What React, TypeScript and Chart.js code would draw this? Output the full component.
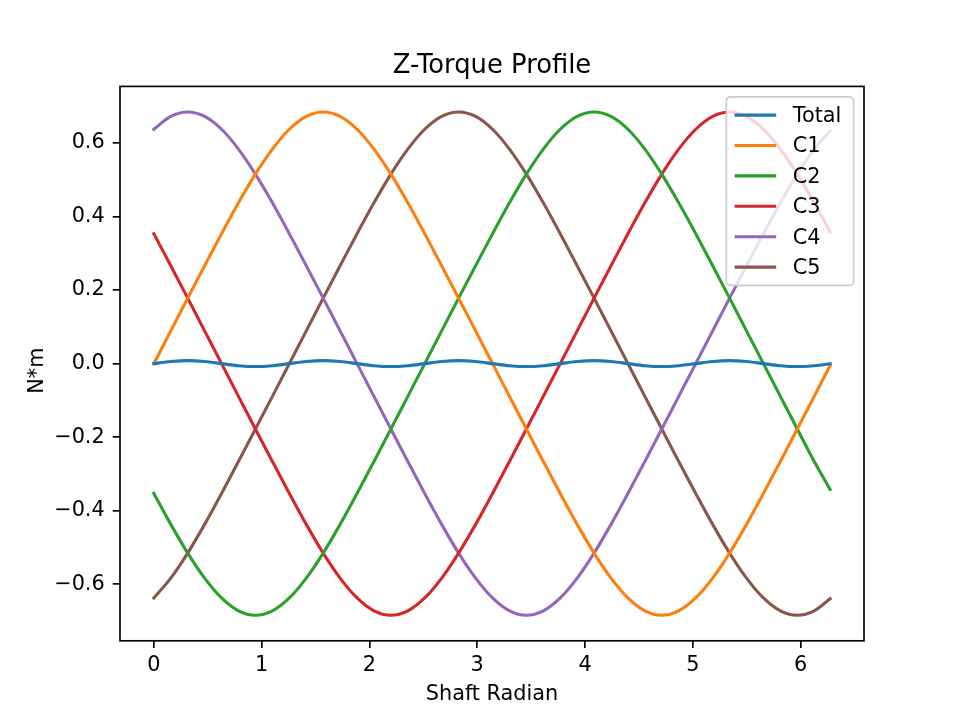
import React, { useEffect, useRef } from 'react';
import { Chart, registerables } from 'chart.js';

Chart.register(...registerables);

// shaft angle in radians (0..~2pi)
const xs = [
  0, 0.157, 0.314, 0.471, 0.628, 0.785, 0.942, 1.1, 1.257, 1.414,
  1.571, 1.728, 1.885, 2.042, 2.199, 2.356, 2.513, 2.67, 2.827, 2.985,
  3.142, 3.299, 3.456, 3.613, 3.77, 3.927, 4.084, 4.241, 4.398, 4.555,
  4.712, 4.869, 5.027, 5.184, 5.341, 5.498, 5.655, 5.812, 5.969, 6.126,
  6.274
];

const total = [
  0, 0.0057, 0.008, 0.0057, 0, -0.0057, -0.008, -0.0057,
  0, 0.0057, 0.008, 0.0057, 0, -0.0057, -0.008, -0.0057,
  0, 0.0057, 0.008, 0.0057, 0, -0.0057, -0.008, -0.0057,
  0, 0.0057, 0.008, 0.0057, 0, -0.0057, -0.008, -0.0057,
  0, 0.0057, 0.008, 0.0057, 0, -0.0057, -0.008, -0.0057,
  -0.0003
];

const c1 = [
  0, 0.089, 0.178, 0.266, 0.353, 0.437, 0.515, 0.583, 0.637, 0.672,
  0.684, 0.672, 0.637, 0.583, 0.515, 0.437, 0.353, 0.266, 0.178, 0.089,
  0, -0.089, -0.178, -0.266, -0.353, -0.437, -0.515, -0.583, -0.637, -0.672,
  -0.684, -0.672, -0.637, -0.583, -0.515, -0.437, -0.353, -0.266, -0.178, -0.089,
  -0.005
];

const c2 = [
  -0.353, -0.437, -0.515, -0.583, -0.637, -0.672, -0.684, -0.672, -0.637, -0.583,
  -0.515, -0.437, -0.353, -0.266, -0.178, -0.089, 0, 0.089, 0.178, 0.266,
  0.353, 0.437, 0.515, 0.583, 0.637, 0.672, 0.684, 0.672, 0.637, 0.583,
  0.515, 0.437, 0.353, 0.266, 0.178, 0.089, 0, -0.089, -0.178, -0.266,
  -0.342
];

const c3 = [
  0.353, 0.266, 0.178, 0.089, 0, -0.089, -0.178, -0.266, -0.353, -0.437,
  -0.515, -0.583, -0.637, -0.672, -0.684, -0.672, -0.637, -0.583, -0.515, -0.437,
  -0.353, -0.266, -0.178, -0.089, 0, 0.089, 0.178, 0.266, 0.353, 0.437,
  0.515, 0.583, 0.637, 0.672, 0.684, 0.672, 0.637, 0.583, 0.515, 0.437,
  0.358
];

const c4 = [
  0.637, 0.672, 0.684, 0.672, 0.637, 0.583, 0.515, 0.437, 0.353, 0.266,
  0.178, 0.089, 0, -0.089, -0.178, -0.266, -0.353, -0.437, -0.515, -0.583,
  -0.637, -0.672, -0.684, -0.672, -0.637, -0.583, -0.515, -0.437, -0.353, -0.266,
  -0.178, -0.089, 0, 0.089, 0.178, 0.266, 0.353, 0.437, 0.515, 0.583,
  0.633
];

const c5 = [
  -0.637, -0.583, -0.515, -0.437, -0.353, -0.266, -0.178, -0.089, 0, 0.089,
  0.178, 0.266, 0.353, 0.437, 0.515, 0.583, 0.637, 0.672, 0.684, 0.672,
  0.637, 0.583, 0.515, 0.437, 0.353, 0.266, 0.178, 0.089, 0, -0.089,
  -0.178, -0.266, -0.353, -0.437, -0.515, -0.583, -0.637, -0.672, -0.684, -0.672,
  -0.639
];

const seriesNames = ['Total', 'C1', 'C2', 'C3', 'C4', 'C5'];
const seriesColors = ['#1f77b4', '#ff7f0e', '#2ca02c', '#d62728', '#9467bd', '#8c564b'];

const xTicks = [0, 1, 2, 3, 4, 5, 6];
const yTicks = [-0.6, -0.4, -0.2, 0, 0.2, 0.4, 0.6];

const FONT = 'DejaVu Sans';

const App: React.FC = () => {
  const chartRef = useRef<HTMLCanvasElement | null>(null);

  useEffect(() => {
    if (!chartRef.current) return;
    const series = [total, c1, c2, c3, c4, c5];

    // matplotlib-like frame, legend and text
    const mplPlugin = {
      id: 'mplDecor',
      afterDatasetsDraw(chart: any) {
        const { ctx, chartArea: a } = chart;
        ctx.save();
        ctx.strokeStyle = '#000';
        ctx.lineWidth = 1.67;
        ctx.strokeRect(a.left, a.top, a.right - a.left, a.bottom - a.top);

        // legend box, upper right inside the axes
        const fs = 20.8;
        ctx.font = `${fs}px "${FONT}"`;
        let textW = 52.5;
        seriesNames.forEach((n) => {
          textW = Math.max(textW, ctx.measureText(n).width);
        });
        const pad = 8.3;
        const handle = 41.6;
        const gap = 16.6;
        const rowH = 20;
        const spacing = 10.4;
        const w = pad + handle + gap + textW + pad;
        const h = pad * 2 + rowH * seriesNames.length + spacing * (seriesNames.length - 1);
        const x0 = a.right - 10.4 - w;
        const y0 = a.top + 10.4;
        const r = 4.2;
        ctx.beginPath();
        ctx.moveTo(x0 + r, y0);
        ctx.lineTo(x0 + w - r, y0);
        ctx.arcTo(x0 + w, y0, x0 + w, y0 + r, r);
        ctx.lineTo(x0 + w, y0 + h - r);
        ctx.arcTo(x0 + w, y0 + h, x0 + w - r, y0 + h, r);
        ctx.lineTo(x0 + r, y0 + h);
        ctx.arcTo(x0, y0 + h, x0, y0 + h - r, r);
        ctx.lineTo(x0, y0 + r);
        ctx.arcTo(x0, y0, x0 + r, y0, r);
        ctx.closePath();
        ctx.fillStyle = 'rgba(255,255,255,0.8)';
        ctx.fill();
        ctx.strokeStyle = '#cccccc';
        ctx.lineWidth = 1.67;
        ctx.stroke();

        seriesNames.forEach((n, i) => {
          const cy = y0 + pad + rowH / 2 + i * (rowH + spacing);
          ctx.beginPath();
          ctx.moveTo(x0 + pad, cy);
          ctx.lineTo(x0 + pad + handle, cy);
          ctx.strokeStyle = seriesColors[i];
          ctx.lineWidth = 3.1;
          ctx.lineCap = 'butt';
          ctx.stroke();
          ctx.fillStyle = '#000';
          ctx.textAlign = 'left';
          ctx.textBaseline = 'alphabetic';
          ctx.fillText(n, x0 + pad + handle + gap, cy + 6.8);
        });
        ctx.restore();
      },
      afterDraw(chart: any) {
        const { ctx, chartArea: a } = chart;
        const cx = (a.left + a.right) / 2;
        ctx.save();
        ctx.fillStyle = '#000';
        ctx.textAlign = 'center';
        ctx.textBaseline = 'alphabetic';
        ctx.font = `25.8px "${FONT}"`;
        ctx.fillText('Z-Torque Profile', cx, 72.5);
        ctx.font = `20.8px "${FONT}"`;
        ctx.fillText('Shaft Radian', cx, 700);
        ctx.translate(43, (a.top + a.bottom) / 2 + 7);
        ctx.rotate(-Math.PI / 2);
        ctx.fillText('N*m', 0, 0);
        ctx.restore();
      }
    };

    const chart = new Chart(chartRef.current, {
      type: 'line',
      data: {
        datasets: series.map((s, i) => ({
          label: seriesNames[i],
          data: xs.map((x, j) => ({ x, y: s[j] })),
          borderColor: seriesColors[i],
          backgroundColor: seriesColors[i],
          borderWidth: 3.1,
          pointRadius: 0,
          cubicInterpolationMode: 'monotone',
          fill: false,
          borderCapStyle: 'square',
          borderJoinStyle: 'round'
        }))
      },
      options: {
        responsive: false,
        animation: false,
        events: [],
        layout: { padding: { top: 86.4, right: 96, left: 0, bottom: 0 } },
        plugins: {
          legend: { display: false },
          title: { display: false },
          tooltip: { enabled: false }
        },
        scales: {
          x: {
            type: 'linear',
            min: -0.314,
            max: 6.588,
            afterBuildTicks: (s: any) => {
              s.ticks = xTicks.map((value) => ({ value }));
            },
            afterFit: (s: any) => {
              s.height = 79.2;
            },
            grid: { drawOnChartArea: false, drawTicks: true, tickLength: 7.3, color: '#000', lineWidth: 1.67 },
            border: { display: false },
            ticks: {
              color: '#000',
              font: { family: FONT, size: 20.8 },
              padding: 5,
              maxRotation: 0,
              autoSkip: false,
              callback: (v: any) => String(v)
            }
          },
          y: {
            type: 'linear',
            min: -0.7535,
            max: 0.7535,
            afterBuildTicks: (s: any) => {
              s.ticks = yTicks.map((value) => ({ value }));
            },
            afterFit: (s: any) => {
              s.width = 120;
            },
            grid: { drawOnChartArea: false, drawTicks: true, tickLength: 7.3, color: '#000', lineWidth: 1.67 },
            border: { display: false },
            ticks: {
              color: '#000',
              font: { family: FONT, size: 20.8 },
              padding: 8,
              autoSkip: false,
              callback: (v: any) => (v < 0 ? '\u2212' : '') + Math.abs(Number(v)).toFixed(1)
            }
          }
        }
      },
      plugins: [mplPlugin]
    } as any);

    return () => {
      chart.destroy();
    };
  }, []);

  return (
    <div style={{ position: 'absolute', left: 0, top: 0, width: 960, height: 720, background: '#fff' }}>
      <canvas ref={chartRef} width={960} height={720} style={{ display: 'block' }} />
    </div>
  );
};

export default App;
